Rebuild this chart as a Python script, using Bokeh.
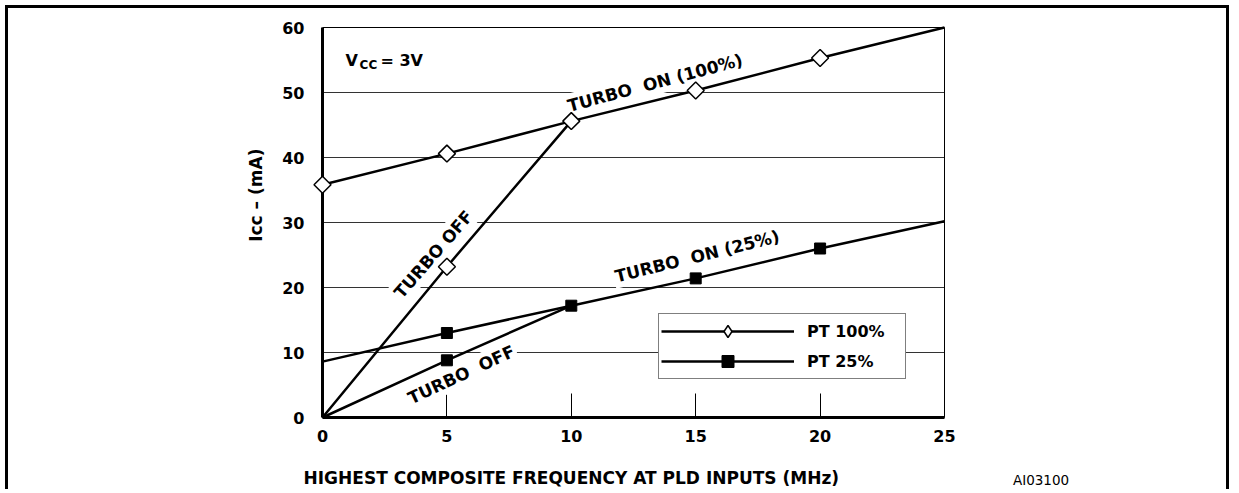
from math import pi
from bokeh.plotting import figure
from bokeh.models import Range1d, FixedTicker, Label, Legend, LegendItem, LinearAxis
from bokeh.embed import file_html
from bokeh.resources import INLINE

# ---- data ----
freq = [0, 5, 10, 15, 20, 25]
pt100_turbo_on = [35.8, 40.6, 45.6, 50.3, 55.3, 60.0]
pt25_turbo_on = [8.6, 13.0, 17.2, 21.4, 26.0, 30.2]
off_freq = [0, 5, 10]
pt100_turbo_off = [0.0, 23.2, 45.6]
pt25_turbo_off = [0.0, 8.8, 17.2]
x_ticks = [0, 5, 10, 15, 20, 25]
y_ticks = [0, 10, 20, 30, 40, 50, 60]
grid_levels = [10, 20, 30, 40, 50]
series_names = ["PT 100%", "PT 25%"]

FONT = "DejaVu Sans"
NB = "\u00a0"

W, H = 1224, 484
X0, X1 = 314, 936      # canvas px of x = 0 and x = 25
Y60, Y0 = 19, 409      # canvas px (from top) of y = 60 and y = 0
xs = (X1 - X0) / (x_ticks[-1] - x_ticks[0])
ys = (Y0 - Y60) / (y_ticks[-1] - y_ticks[0])

p = figure(width=W, height=H,
           x_range=Range1d(-X0 / xs, x_ticks[-1] + (W - X1) / xs),
           y_range=Range1d(-(H - Y0) / ys, y_ticks[-1] + Y60 / ys),
           x_axis_location=None, y_axis_location=None,
           output_backend="svg", toolbar_location=None,
           min_border=0)
p.styles = {"margin-left": "5px", "margin-top": "5px",
            "border-top": "3px solid black", "border-left": "3px solid black",
            "border-right": "3px solid black"}
p.outline_line_color = None
p.background_fill_color = "white"
p.border_fill_color = "white"
p.xgrid.visible = False
p.ygrid.visible = False

# axes at the data origin
xax = LinearAxis(fixed_location=0, bounds=(x_ticks[0], x_ticks[-1]),
                 ticker=FixedTicker(ticks=x_ticks))
yax = LinearAxis(fixed_location=0, bounds=(y_ticks[0], y_ticks[-1]),
                 ticker=FixedTicker(ticks=y_ticks))
for ax in (xax, yax):
    ax.axis_line_width = 3
    ax.axis_line_color = "black"
    ax.major_label_text_font = FONT
    ax.major_label_text_font_style = "bold"
    ax.major_label_text_font_size = "16px"
    ax.major_label_text_color = "black"
    ax.minor_tick_line_color = None
    ax.major_label_standoff = 12
xax.major_tick_in = 24
xax.major_tick_out = 0
xax.major_tick_line_width = 1
xax.major_tick_line_color = "black"
yax.major_tick_line_color = None
p.add_layout(xax, "below")
p.add_layout(yax, "left")

# grid lines and the thin top/right frame
p.segment(x0=[x_ticks[0]] * len(grid_levels), y0=grid_levels,
          x1=[x_ticks[-1]] * len(grid_levels), y1=grid_levels,
          line_color="#333333", line_width=1, level="underlay")
p.line([x_ticks[0], x_ticks[-1], x_ticks[-1]], [y_ticks[-1], y_ticks[-1], y_ticks[0]],
       line_color="black", line_width=1, level="underlay")

# ---- curve labels (white boxes cut the grid lines) ----
def curve_label(x, y, text, angle_deg):
    p.add_layout(Label(x=x, y=y, text=text, angle=angle_deg * pi / 180,
                       text_align="center", text_baseline="middle",
                       text_font=FONT, text_font_style="bold", text_font_size="17px",
                       text_color="black", background_fill_color="white", padding=2))

curve_label(13.37, 51.5, "TURBO" + NB + " ON (100%)", 15)
curve_label(4.46, 25.1, "TURBO OFF", 49)
curve_label(15.06, 24.8, "TURBO" + NB + " ON (25%)", 14)
curve_label(5.58, 6.6, "TURBO" + NB + " OFF", 25)

# ---- data lines and markers (drawn above the label boxes) ----
LW = 2.5
l100 = p.line(freq, pt100_turbo_on, line_width=LW, line_color="black", level="overlay")
p.line(off_freq, pt100_turbo_off, line_width=LW, line_color="black", level="overlay")
l25 = p.line(freq, pt25_turbo_on, line_width=LW, line_color="black", level="overlay")
p.line(off_freq, pt25_turbo_off, line_width=LW, line_color="black", level="overlay")

m100x = freq[:5] + off_freq[1:2]
m100y = pt100_turbo_on[:5] + pt100_turbo_off[1:2]
p.scatter(m100x, m100y, marker="square", angle=pi / 4, size=12,
          fill_color="white", line_color="black", line_width=1.5, level="overlay")
m25 = p.scatter(freq[1:5] + off_freq[1:2], pt25_turbo_on[1:5] + pt25_turbo_off[1:2],
                marker="square", size=11, fill_color="black", line_color="black",
                level="overlay")
# legend key for the open diamond (legend markers are drawn unrotated)
m100_key = p.scatter(m100x, m100y, marker="diamond", size=12, visible=False,
                     fill_color="white", line_color="black", line_width=1.5)

legend = Legend(items=[LegendItem(label=series_names[0], renderers=[l100, m100_key]),
                       LegendItem(label=series_names[1], renderers=[l25, m25])],
                location=(650, H - 371), orientation="vertical",
                glyph_width=133, glyph_height=30, label_height=30, label_width=96,
                label_standoff=13, spacing=0, padding=2, margin=0,
                border_line_color="black", border_line_width=1.5,
                background_fill_color="white", background_fill_alpha=1,
                label_text_font=FONT, label_text_font_style="bold",
                label_text_font_size="16px", label_text_color="black")
p.add_layout(legend)

# ---- texts ----
def text(x, y, s, size, bold=True, **kw):
    p.add_layout(Label(x=x, y=y, text=s, text_font=FONT,
                       text_font_style="bold" if bold else "normal",
                       text_font_size=size, text_color="black", **kw))

text(0.92, 54.9, "V", "16px", text_baseline="alphabetic")
text(1.49, 54.3, "CC", "12px", text_baseline="alphabetic")
text(2.33, 54.9, "= 3V", "16px", text_baseline="alphabetic")

text(-2.69, 34.2, "Icc \u2013 (mA)", "17px", angle=pi / 2,
     text_align="center", text_baseline="middle")
text(10.0, -9.38, "HIGHEST COMPOSITE FREQUENCY AT PLD INPUTS (MHz)", "17px",
     text_align="center", text_baseline="middle")
text(27.75, -9.69, "AI03100", "13.5px", bold=False,
     text_align="left", text_baseline="middle")

open("out.html", "w").write(file_html(p, INLINE))
